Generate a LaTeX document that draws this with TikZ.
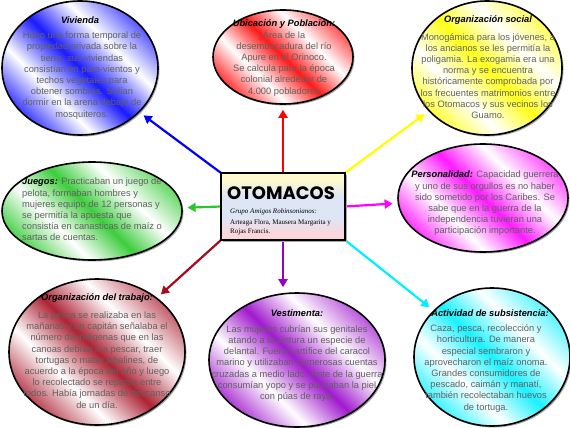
\documentclass[tikz,border=0pt]{standalone}
\usepackage{fontspec}
\setmainfont{Liberation Sans}
\newfontfamily\serifF{Liberation Serif}
\newfontfamily\headF{Poppins}
\usetikzlibrary{arrows.meta,shapes.geometric}
\definecolor{cblue}{RGB}{0,0,255}
\definecolor{cred}{RGB}{255,0,0}
\definecolor{cyel}{RGB}{255,255,0}
\definecolor{cgreen}{RGB}{40,200,40}
\definecolor{cmag}{RGB}{255,0,255}
\definecolor{cdred}{RGB}{165,10,30}
\definecolor{cpur}{RGB}{150,0,200}
\definecolor{ccyan}{RGB}{0,240,255}
\definecolor{pyel}{RGB}{255,250,205}
\definecolor{pblu}{RGB}{222,230,245}
\definecolor{ppink}{RGB}{250,215,220}
\newcommand\mkband[2]{\pgfdeclarehorizontalshading{#1}{100bp}{color(0bp)=(#2); color(25bp)=(#2!75!white); color(37bp)=(white); color(50bp)=(#2!90!white); color(63bp)=(white); color(75bp)=(#2!65!white); color(100bp)=(#2)}}
\mkband{bblue}{cblue}
\mkband{bred}{cred}
\mkband{byel}{cyel}
\mkband{bgreen}{cgreen}
\mkband{bmag}{cmag}
\mkband{bdred}{cdred}
\mkband{bpur}{cpur}
\mkband{bcyan}{ccyan}
\pgfdeclareverticalshading{flag}{100bp}{color(0bp)=(ppink); color(30bp)=(ppink); color(42bp)=(pblu); color(58bp)=(pblu); color(70bp)=(pyel); color(100bp)=(pyel)}
\begin{document}
\begin{tikzpicture}[x=1pt,y=-1pt,
  ell/.style={ellipse, draw=black, line width=1.6pt, inner sep=0pt, shading angle=45},
  shd/.style={ellipse, fill=black!35, inner sep=0pt},
  body/.style={font=\fontsize{9.3}{11.2}\selectfont, text=black!62, align=center, inner sep=0pt},
  ttl/.style={font=\fontsize{9.3}{11.2}\selectfont\bfseries\itshape, text=black, inner sep=0pt},
  arr/.style={line width=2.2pt, -{Triangle[length=8pt,width=9pt]}, shorten >=5pt}]
\useasboundingbox (0,0) rectangle (570,428);
\fill[white] (0,0) rectangle (570,428);

% ellipse shadows
\node[shd, minimum width=156pt, minimum height=134pt] (sviv) at (81.5,69.5) {};
\node[shd, minimum width=140pt, minimum height=94pt] (subi) at (284.5,58.5) {};
\node[shd, minimum width=150pt, minimum height=134pt] (ssoc) at (488.5,69.5) {};
\node[shd, minimum width=180pt, minimum height=98pt] (sjue) at (93.5,212.5) {};
\node[shd, minimum width=170pt, minimum height=108pt] (sper) at (484.5,199.5) {};
\node[shd, minimum width=176pt, minimum height=146pt] (stra) at (98.5,353.5) {};
\node[shd, minimum width=176pt, minimum height=134pt] (sves) at (298.5,361.5) {};
\node[shd, minimum width=156pt, minimum height=138pt] (sact) at (493.5,358.5) {};

% ellipses
\node[ell, shading=bblue, minimum width=156pt, minimum height=134pt] (viv) at (80,68) {};
\node[ell, shading=bred, minimum width=140pt, minimum height=94pt] (ubi) at (283,57) {};
\node[ell, shading=byel, minimum width=150pt, minimum height=134pt] (soc) at (487,68) {};
\node[ell, shading=bgreen, minimum width=180pt, minimum height=98pt] (jue) at (92,211) {};
\node[ell, shading=bmag, minimum width=170pt, minimum height=108pt] (per) at (483,198) {};
\node[ell, shading=bdred, minimum width=176pt, minimum height=146pt] (tra) at (97,352) {};
\node[ell, shading=bpur, minimum width=176pt, minimum height=134pt] (ves) at (297,360) {};
\node[ell, shading=bcyan, minimum width=156pt, minimum height=138pt] (act) at (492,357) {};

% central box anchor holder
\path (283,206.5) node[minimum width=124pt, minimum height=67pt, inner sep=0pt] (box) {};

% arrows
\draw[arr, cblue] (box.north west) -- (viv);
\draw[arr, cred] (box.north) -- (ubi);
\draw[arr, cyel] (box.north east) -- (soc);
\draw[arr, cgreen] (box.west) -- (jue);
\draw[arr, cmag] (box.east) -- (per);
\draw[arr, cdred] (box.south west) -- (tra);
\draw[arr, cpur] (box.south) -- (box.south |- ves.north);
\draw[arr, ccyan] (box.south east) -- (act);

\node[fill=black!35, minimum width=124pt, minimum height=67pt, inner sep=0pt] (bshd) at (285,208.5) {};
\node[draw=black, line width=2.5pt, shading=flag, minimum width=124pt, minimum height=67pt, inner sep=0pt] (bfr) at (box.center) {};

% texts
\node[ttl] (tviv) at (80,20) {Vivienda};
\node[body] (bviv) at (82,75.5) {Hubo una forma temporal de\\propiedad privada sobre la\\tierra, sus viviendas\\consistían en para-vientos y\\techos vegetales para\\obtener sombras. Solían\\dormir en la arena debajo de\\mosquiteros.};

\node[body] (bubi) at (284,58) {{\color{black}\bfseries\itshape Ubicación y Población:}\\Área de la\\desembocadura del río\\Apure en el Orinoco.\\Se calcula para la época\\colonial alrededor de\\4.000 pobladores};

\node[ttl] (tsoc) at (488,20) {Organización social};
\node[body] (bsoc) at (488,76) {Monogámica para los jóvenes, a\\los ancianos se les permitía la\\poligamia. La exogamia era una\\norma y se encuentra\\históricamente comprobada por\\los frecuentes matrimonios entre\\los Otomacos y sus vecinos los\\Guamo.};

\node[body, align=left, anchor=west] (bjue) at (22,209.5) {{\color{black}\bfseries\itshape Juegos:} Practicaban un juego de\\pelota, formaban hombres y\\mujeres equipo de 12 personas y\\se permitía la apuesta que\\consistía en canasticas de maíz o\\sartas de cuentas.};

\node[body] (bper) at (485,203.5) {{\color{black}\bfseries\itshape Personalidad:} Capacidad guerrera\\y uno de sus orgullos es no haber\\sido sometido por los Caribes. Se\\sabe que en la guerra de la\\independencia tuvieran una\\participación importante.};

\node[ttl] (ttra) at (97,298) {Organización del trabajo:};
\node[body] (btra) at (97,360) {La pesca se realizaba en las\\mañanas y un capitán señalaba el\\número de indígenas que en las\\canoas debían ir a pescar, traer\\tortugas o matar jabalines, de\\acuerdo a la época del año y luego\\lo recolectado se repartía entre\\todos. Había jornadas de descanso\\de un día.};

\node[ttl] (tves) at (297,313) {Vestimenta:};
\node[body] (bves) at (297,363.5) {Las mujeres cubrían sus genitales\\atando a la cintura un especie de\\delantal. Fueron artífice del caracol\\marino y utilizaban numerosas cuentas\\cruzadas a medio lado. Ante de la guerra\\consumían yopo y se punzaban la piel\\con púas de raya.};

\node[ttl] (tact) at (490,313) {Actividad de subsistencia:};
\node[body] (bact) at (486,368.5) {Caza, pesca, recolección y\\horticultura. De manera\\especial sembraron y\\aprovecharon el maíz onoma.\\Grandes consumidores de\\pescado, caimán y manatí,\\también recolectaban huevos\\de tortuga.};

% box texts
\node[font=\headF\bfseries\fontsize{18}{20}\selectfont, inner sep=0pt] (tit) at (281,193) {OTOMACOS};
\node[font=\serifF\itshape\fontsize{7}{8}\selectfont, anchor=west, inner sep=0pt] (grp) at (230,212) {Grupo Amigos Robinsonianos:};
\node[font=\serifF\fontsize{7}{9}\selectfont, anchor=north west, align=left, inner sep=0pt] (aut) at (230,219) {Arteaga Flora, Mausera Margarita y\\Rojas Francis.};
\end{tikzpicture}
\end{document}
